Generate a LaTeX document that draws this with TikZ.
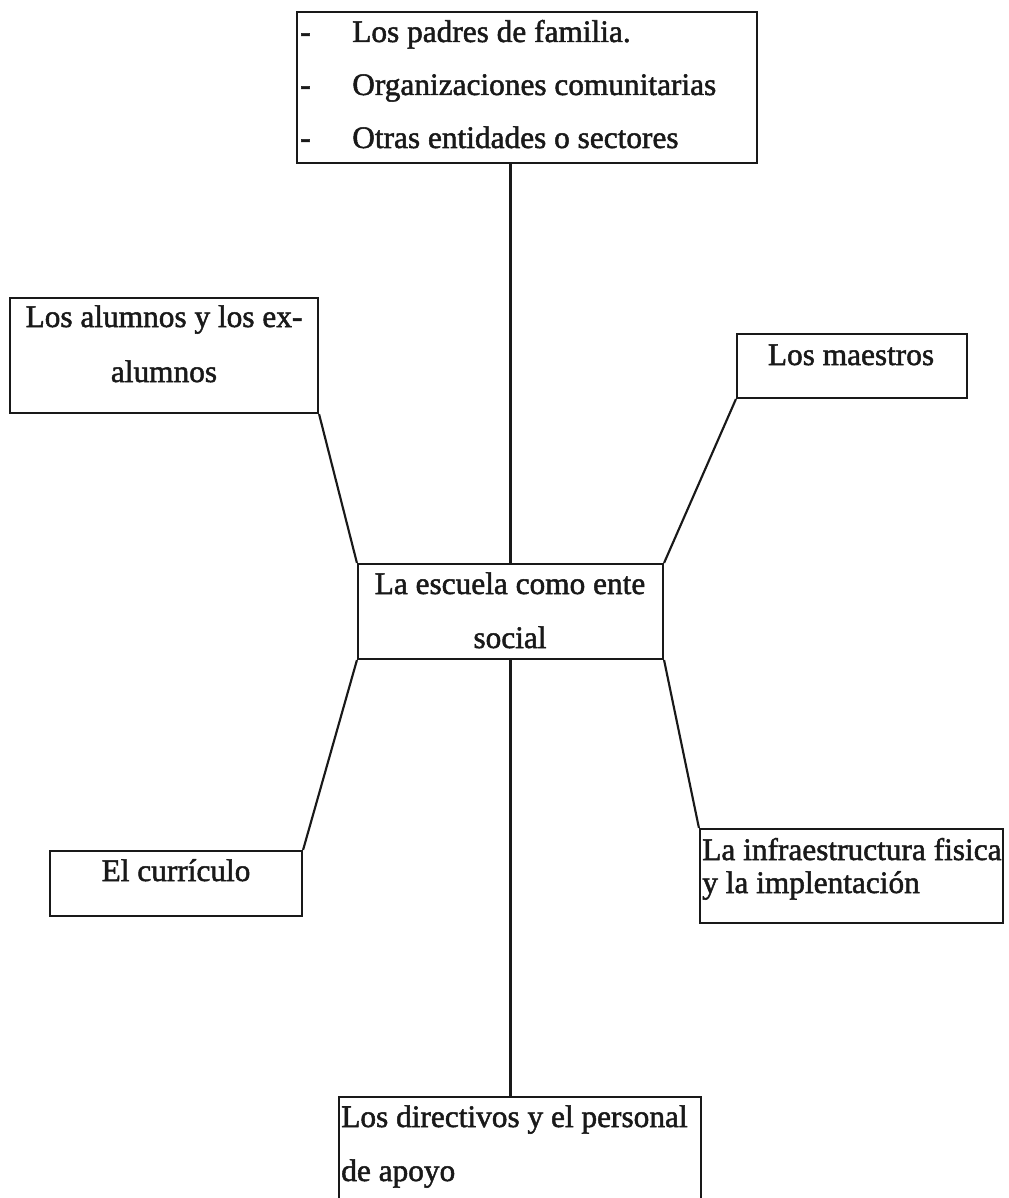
\documentclass[tikz,border=0pt]{standalone}
\usepackage{fontspec}
\setmainfont[FakeBold=1.6]{Liberation Serif}
\usetikzlibrary{fit}
\begin{document}
\begin{tikzpicture}[x=0.75pt,y=-0.75pt,
  boxst/.style={draw=black!90, line width=1.6pt, inner sep=0pt},
  txt/.style={font=\fontsize{23.5}{28}\selectfont, inner sep=0pt, text=black!90},
  link/.style={draw=black!90, line width=1.6pt}]
\useasboundingbox (0,0) rectangle (1009,1198);
\clip (0,0) rectangle (1009,1198);
% boxes
\node[boxst, fit={(297,12) (757,163)}] (top) {};
\node[boxst, fit={(10,298) (318,413)}] (alum) {};
\node[boxst, fit={(737,334) (967,398)}] (maes) {};
\node[boxst, fit={(358,564) (663,659)}] (center) {};
\node[boxst, fit={(50,851) (302,916)}] (curr) {};
\node[boxst, fit={(700,829) (1003,923)}] (infra) {};
\node[boxst, fit={(339,1097) (701,1215)}] (bot) {};
% texts
\node[txt, anchor=base west] (d1) at (300,42) {-};
\node[txt, anchor=base west] (t1) at (352,42) {Los padres de familia.};
\node[txt, anchor=base west] (d2) at (300,95) {-};
\node[txt, anchor=base west] (t2) at (352,95) {Organizaciones comunitarias};
\node[txt, anchor=base west] (d3) at (300,148) {-};
\node[txt, anchor=base west] (t3) at (352,148) {Otras entidades o sectores};
\node[txt, anchor=base] (a1) at (164,327) {Los alumnos y los ex-};
\node[txt, anchor=base] (a2) at (164,382) {alumnos};
\node[txt, anchor=base] (m1) at (851,365) {Los maestros};
\node[txt, anchor=base] (c1) at (510,594) {La escuela como ente};
\node[txt, anchor=base] (c2) at (510,648) {social};
\node[txt, anchor=base] (k1) at (176,881) {El currículo};
\node[txt, anchor=base west] (i1) at (702,860) {La infraestructura fisica};
\node[txt, anchor=base west] (i2) at (702,893) {y la implentación};
\node[txt, anchor=base west] (b1) at (341,1127) {Los directivos y el personal};
\node[txt, anchor=base west] (b2) at (341,1181) {de apoyo};
% connectors
\draw[link] (center.north) -- (center.north |- top.south);
\draw[link] (alum.south east) -- (center.north west);
\draw[link] (maes.south west) -- (center.north east);
\draw[link] (center.south west) -- (curr.north east);
\draw[link] (center.south east) -- (infra.north west);
\draw[link] (center.south) -- (center.south |- bot.north);
\end{tikzpicture}
\end{document}
